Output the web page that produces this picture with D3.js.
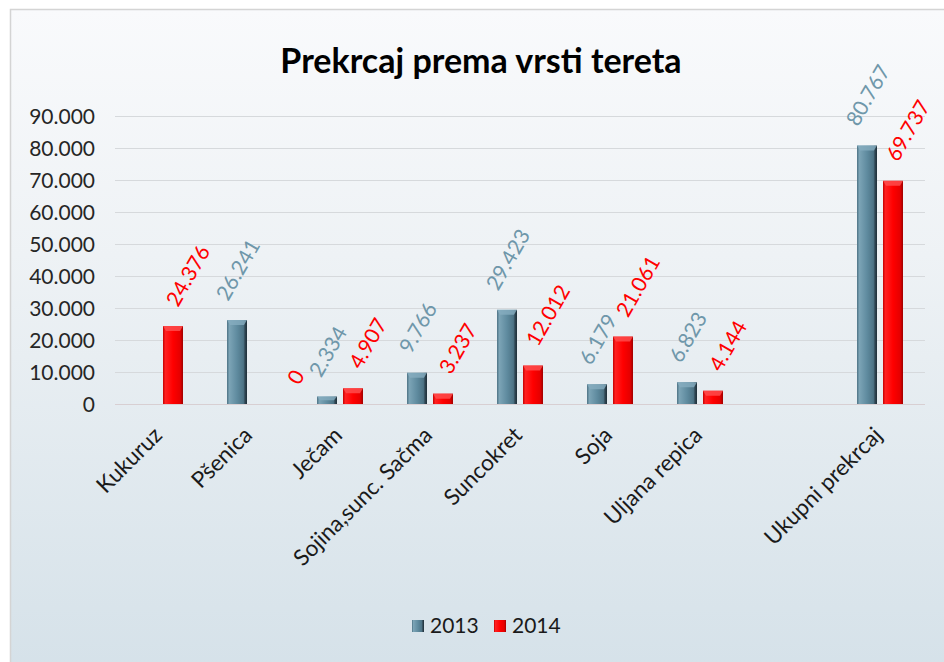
<!DOCTYPE html>
<html><head><meta charset="utf-8">
<script src="https://cdn.jsdelivr.net/npm/d3@7"></script>
<style>
html,body{margin:0;padding:0;background:#fff;}
svg{display:block;font-family:Lato,"Open Sans",sans-serif;}
</style></head>
<body>
<svg id="c" width="944" height="662"></svg>
<script>
const categories = ["Kukuruz","Pšenica","Ječam","Sojina,sunc. Sačma","Suncokret","Soja","Uljana repica","","Ukupni prekrcaj"];
const series = ["2013","2014"];
const values2013 = [null, 26241, 2334, 9766, 29423, 6179, 6823, null, 80767];
const values2014 = [24376, 0, 4907, 3237, 12012, 21061, 4144, null, 69737];
const yTicks = [0,10000,20000,30000,40000,50000,60000,70000,80000,90000];
const title = "Prekrcaj prema vrsti tereta";

const svg = d3.select("#c");
const defs = svg.append("defs");

// background gradient
const bg = defs.append("linearGradient").attr("id","bg").attr("x1",0).attr("y1",0).attr("x2",0).attr("y2",1);
bg.append("stop").attr("offset",0).attr("stop-color","#f9fafc");
bg.append("stop").attr("offset",0.35).attr("stop-color","#eef2f5");
bg.append("stop").attr("offset",1).attr("stop-color","#d3e0e8");

function barGrad(id, stops){
  const g = defs.append("linearGradient").attr("id",id).attr("x1",0).attr("y1",0).attr("x2",1).attr("y2",0);
  stops.forEach(s=>g.append("stop").attr("offset",s[0]).attr("stop-color",s[1]));
}
barGrad("g2013",[[0,"#4d7284"],[0.12,"#7ca4b6"],[0.5,"#5f8b9f"],[0.82,"#4d7385"],[0.9,"#2f4654"],[1,"#1f2f38"]]);
barGrad("g2014",[[0,"#c40000"],[0.12,"#ff2020"],[0.5,"#ff0000"],[0.85,"#e60000"],[1,"#a00000"]]);
const colors = {"2013":"url(#g2013)","2014":"url(#g2014)"};
const topColors = {"2013":"#86adbf","2014":"#ff5050"};
const labelColors = {"2013":"#6f97aa","2014":"#ff0000"};

// frame
svg.append("rect").attr("x",10.5).attr("y",9.5).attr("width",960).attr("height",700)
  .attr("fill","url(#bg)").attr("stroke","#d4d4d4").attr("stroke-width",1.5);

const x = d3.scaleBand().domain(d3.range(categories.length)).range([115,925]).padding(0);
const x1 = d3.scaleBand().domain(series).range([22,68]).paddingInner(0.2308).paddingOuter(0);
const y = d3.scaleLinear().domain([0,90000]).range([404,116]);

const fmt = v => d3.format(",")(v).replace(/,/g,".");

// title
svg.append("text").attr("x",481).attr("y",73).attr("text-anchor","middle")
  .attr("font-size",34).attr("font-weight","bold").attr("fill","#000").text(title);

// gridlines
svg.append("g").selectAll("line").data(yTicks).join("line")
  .attr("x1",115).attr("x2",925).attr("y1",d=>Math.round(y(d))+0.5).attr("y2",d=>Math.round(y(d))+0.5)
  .attr("stroke",d=>d===0?"#d8cfd2":"#d6d9dc").attr("stroke-width",1);

// y axis labels
const yAxis = d3.axisLeft(y).tickValues(yTicks).tickFormat(fmt).tickSize(0).tickPadding(0);
const ya = svg.append("g").attr("transform","translate(95,0)").call(yAxis);
ya.select(".domain").remove();
ya.selectAll("text").attr("font-size",21).attr("fill","#262626").attr("font-family","Lato,'Open Sans',sans-serif").attr("dy","0.35em");

// bars
const data = [];
categories.forEach((c,i)=>{
  [["2013",values2013[i]],["2014",values2014[i]]].forEach(([s,v])=>{
    if(v!==null) data.push({i,s,v});
  });
});
const bars = svg.append("g");
bars.selectAll("rect.bar").data(data.filter(d=>d.v>0)).join("rect").attr("class","bar")
  .attr("x",d=>x(d.i)+x1(d.s)).attr("width",x1.bandwidth())
  .attr("y",d=>y(d.v)).attr("height",d=>y(0)-y(d.v))
  .attr("fill",d=>colors[d.s]);
// top bevel
bars.selectAll("path.bev").data(data.filter(d=>d.v>0)).join("path").attr("class","bev")
  .attr("d",d=>{const x0=x(d.i)+x1(d.s), w=x1.bandwidth(), t=y(d.v), h=Math.min(5,(y(0)-t)/2);
    return `M${x0},${t}L${x0+w},${t}L${x0+w-3},${t+h}L${x0+3},${t+h}Z`;})
  .attr("fill",d=>topColors[d.s]).attr("opacity",0.8);

// data labels rotated -60
const ang = 60*Math.PI/180;
const dxs = {"2013":1,"2014":15};
const lab = svg.append("g").selectAll("text").data(data).join("text")
  .attr("font-size",21).attr("fill",d=>labelColors[d.s]).attr("text-anchor","middle").attr("dy","0.35em")
  .text(d=>fmt(d.v));
lab.each(function(d){
  const L = this.getComputedTextLength(), h = 15;
  const halfH = (L*Math.sin(ang)+h*Math.cos(ang))/2;
  const cx = x(d.i)+x1(d.s)+x1.bandwidth()/2 + dxs[d.s] + (d.v===0?18:0);
  const cy = y(d.v) - 18 - halfH;
  d3.select(this).attr("transform",`translate(${cx},${cy}) rotate(-60)`);
});

// category labels rotated -45
svg.append("g").selectAll("text").data(categories.map((c,i)=>({c,i})).filter(d=>d.c)).join("text")
  .attr("font-size",22.5).attr("fill","#1a1a1a").attr("text-anchor","end")
  .attr("transform",d=>`translate(${x(d.i)+x.bandwidth()/2-2},${431}) rotate(-45)`)
  .attr("dy","0.35em").text(d=>d.c);

// legend
const lg = svg.append("g").attr("transform","translate(412,620)");
const li = lg.selectAll("g").data(series).join("g").attr("transform",(d,i)=>`translate(${i*82},0)`);
li.append("rect").attr("width",12).attr("height",12).attr("fill",d=>d==="2013"?"url(#g2013)":"url(#g2014)");
li.append("text").attr("x",18).attr("y",6).attr("dy","0.35em").attr("font-size",21).attr("fill","#1a1a1a").text(d=>d);
</script>
</body></html>
